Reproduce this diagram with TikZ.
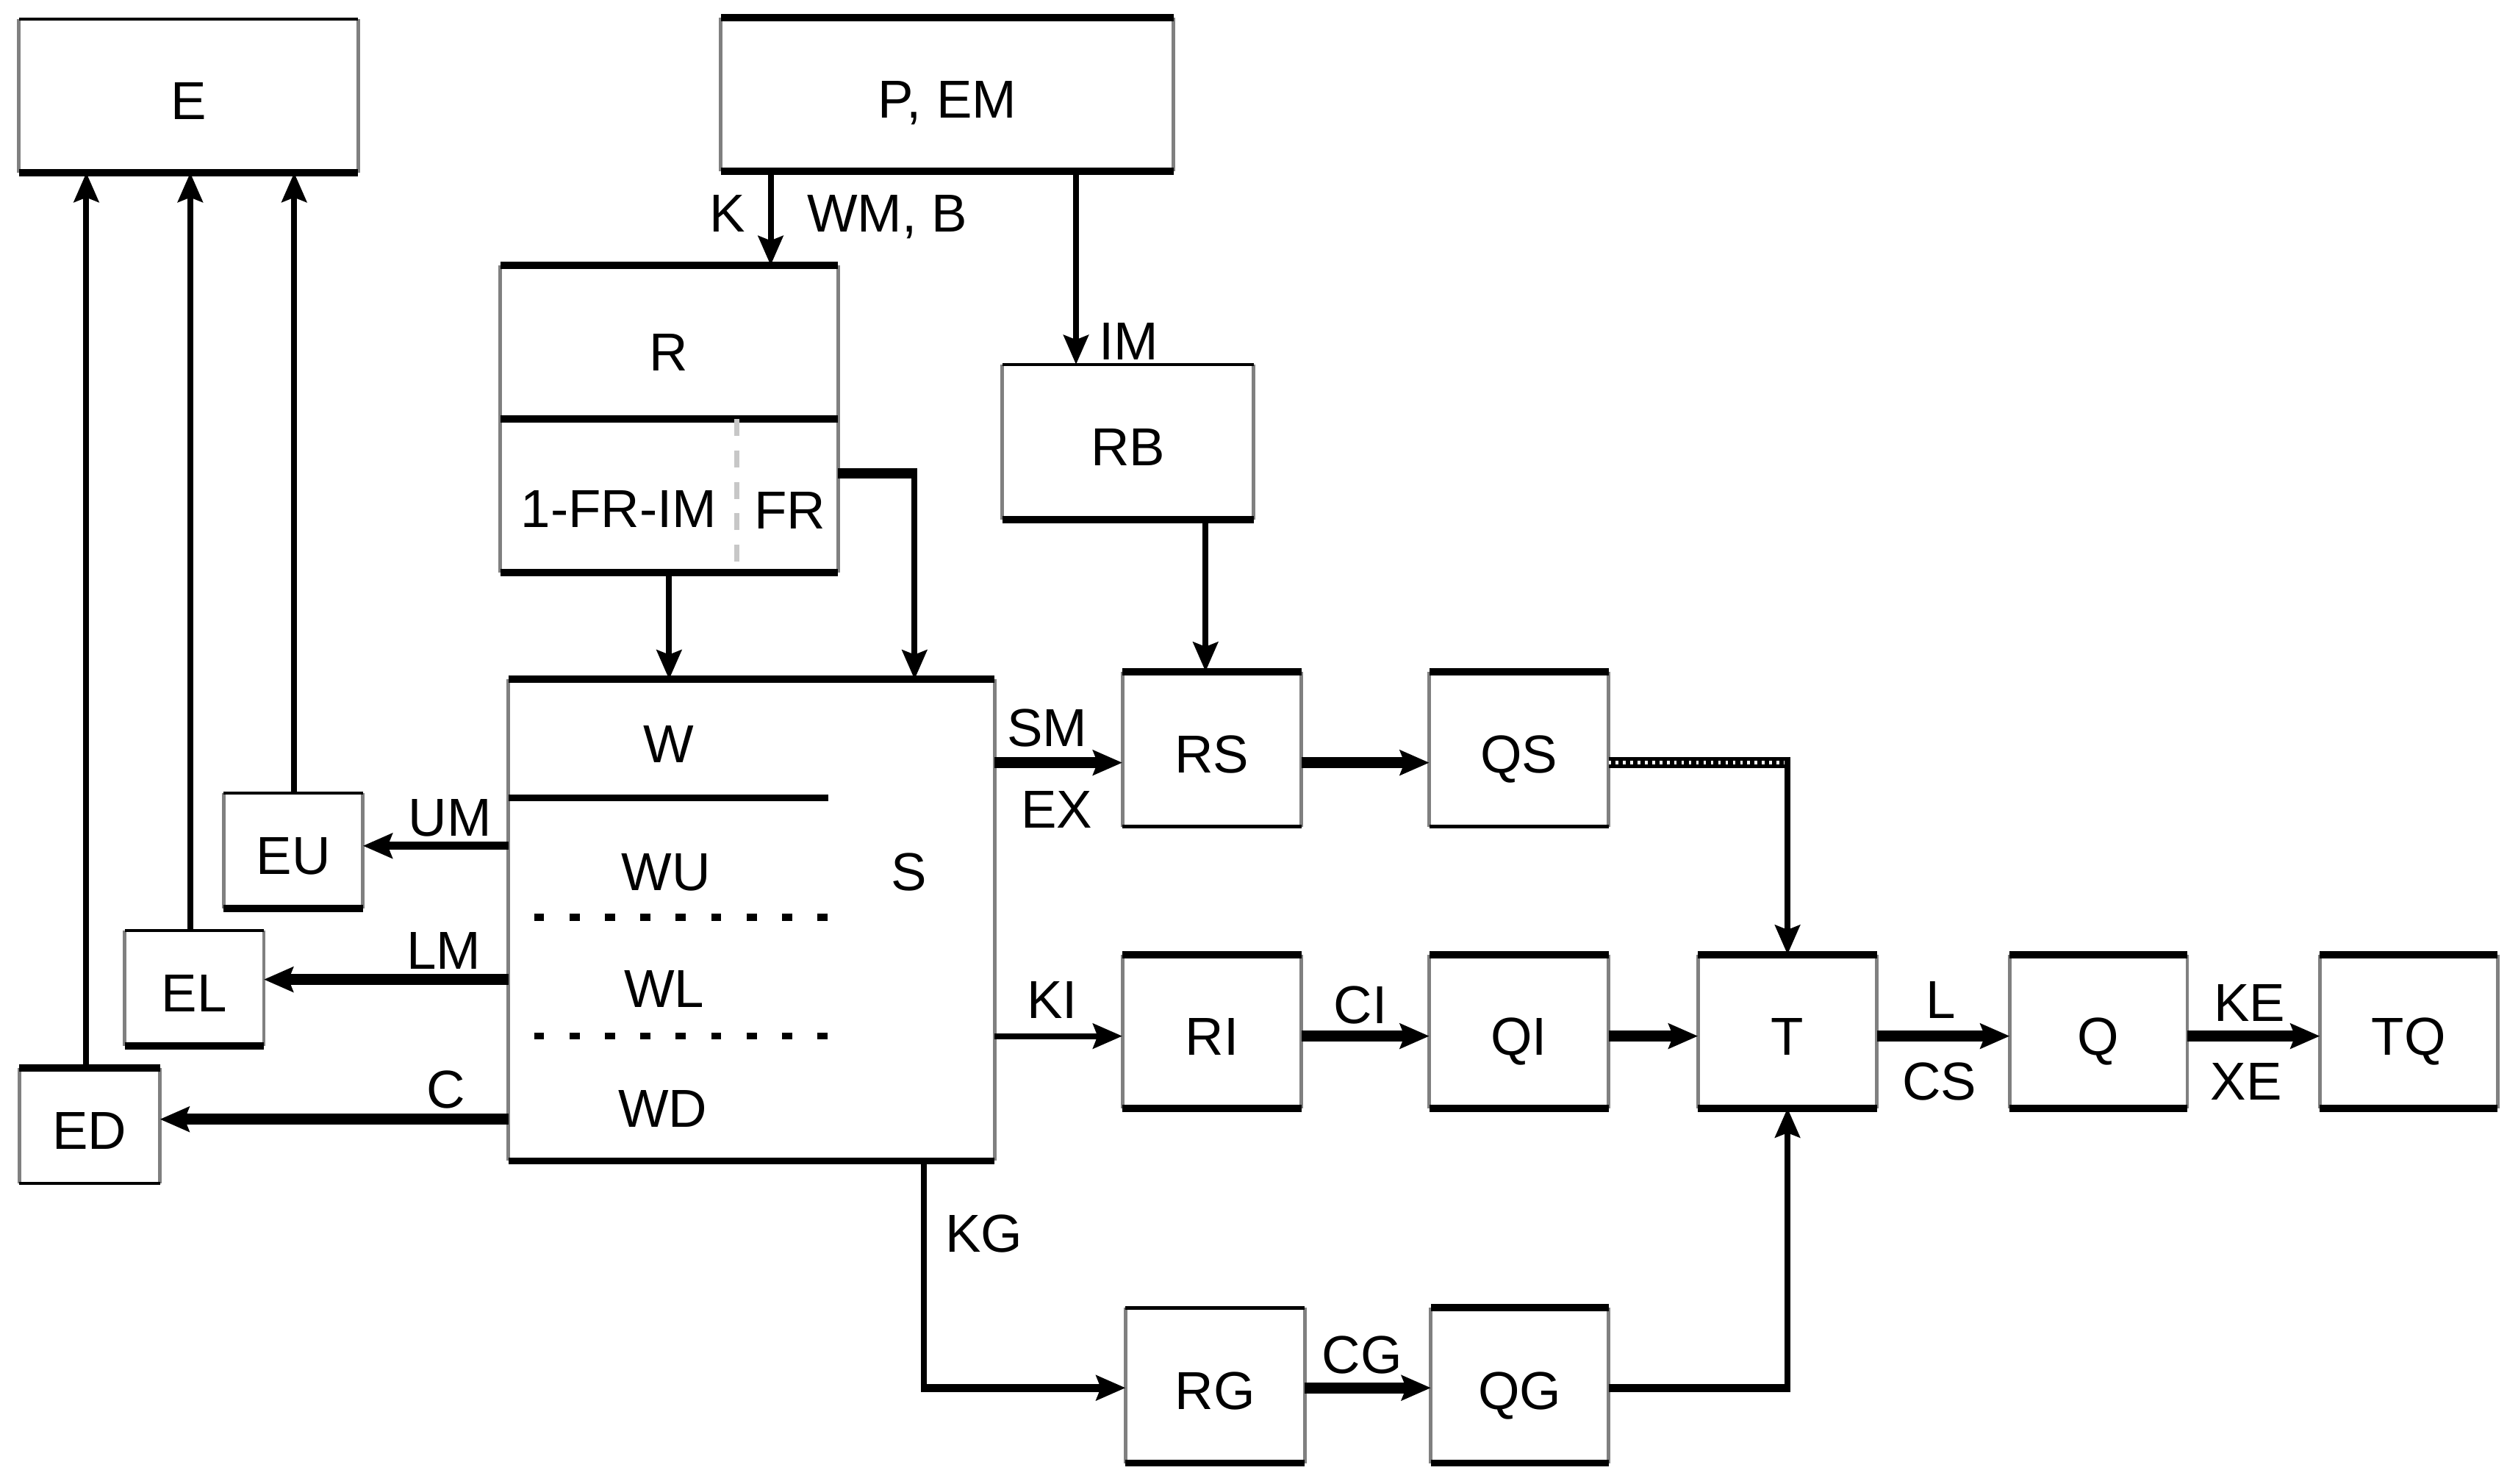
\documentclass[tikz,border=0pt]{standalone}
\usepackage{fontspec}
\setmainfont{Liberation Sans}
\usetikzlibrary{arrows.meta,calc}
\begin{document}
\begin{tikzpicture}[x=0.01cm,y=-0.01cm,
  font=\fontsize{9.5}{11}\selectfont,
  blk/.style={inner sep=0pt, outer sep=0pt, text height=8.4pt, text depth=0pt},
  lbl/.style={inner sep=0pt, outer sep=0pt, text height=6.8pt, text depth=0pt},
  side/.style={line width=0.65pt, black!50},
  edgethick/.style={line width=1.3pt},
  edgethin/.style={line width=0.6pt},
  tip/.style={-{Stealth[length=5.2pt,width=4.4pt,inset=0.8pt]}},
  wthin/.style={line width=1.05pt},
  wmid/.style={line width=1.4pt},
  wthick/.style={line width=2pt},
  divline/.style={line width=1.2pt},
  dotline/.style={line width=1.2pt, dash pattern=on 1.8pt off 4.5pt},
  grayDash/.style={line width=0.9pt, black!22, dash pattern=on 3pt off 2.6pt}
]
\useasboundingbox (0,0) rectangle (1568,928);

% ---------- boxes ----------
\node[blk, minimum width=2.12cm, minimum height=0.96cm] (E) at (118,60) {E};
\node[blk, minimum width=2.83cm, minimum height=0.96cm] (PEM) at (592.5,59) {P, EM};
\node[blk, minimum width=2.11cm, minimum height=1.92cm] (Rbox) at (418.5,262) {};
\node[blk, minimum width=1.57cm, minimum height=0.97cm] (RB) at (705.5,276.5) {RB};
\node[blk, minimum width=3.04cm, minimum height=3.01cm] (S) at (470,575.5) {};
\node[blk, minimum width=0.87cm, minimum height=0.72cm] (EU) at (183.5,532) {EU};
\node[blk, minimum width=0.87cm, minimum height=0.72cm] (EL) at (121.5,618) {EL};
\node[blk, minimum width=0.88cm, minimum height=0.72cm] (ED) at (56,704) {ED};
\node[blk, minimum width=1.12cm, minimum height=0.97cm] (RS) at (758,468.5) {RS};
\node[blk, minimum width=1.12cm, minimum height=0.97cm] (QS) at (950,468.5) {QS};
\node[blk, minimum width=1.12cm, minimum height=0.96cm] (RI) at (758,645) {RI};
\node[blk, minimum width=1.12cm, minimum height=0.96cm] (QI) at (950,645) {QI};
\node[blk, minimum width=1.12cm, minimum height=0.96cm] (T) at (1118,645) {T};
\node[blk, minimum width=1.11cm, minimum height=0.96cm] (Q) at (1312.5,645) {Q};
\node[blk, minimum width=1.11cm, minimum height=0.96cm] (TQ) at (1506.5,645) {TQ};
\node[blk, minimum width=1.12cm, minimum height=0.97cm] (RG) at (760,866.5) {RG};
\node[blk, minimum width=1.11cm, minimum height=0.97cm] (QG) at (950.5,866.5) {QG};

% box sides (thin gray)
\foreach \n in {E,PEM,Rbox,RB,S,EU,EL,ED,RS,QS,RI,QI,T,Q,TQ,RG,QG}{
  \draw[side] (\n.north west) -- (\n.south west) (\n.north east) -- (\n.south east);
}
% thick top edges
\foreach \n in {PEM,Rbox,S,RS,QS,RI,QI,T,Q,TQ,ED,QG}{
  \draw[edgethick] (\n.north west) -- (\n.north east);
}
% thin top edges
\foreach \n in {E,EU,EL,RB,RG}{
  \draw[edgethin] (\n.north west) -- (\n.north east);
}
% thick bottom edges
\foreach \n in {E,PEM,Rbox,RB,S,EU,EL,RI,QI,T,Q,TQ,RG,QG}{
  \draw[edgethick] (\n.south west) -- (\n.south east);
}
% thin bottom edges
\foreach \n in {ED,RS,QS}{
  \draw[edgethin] (\n.south west) -- (\n.south east);
}

% ---------- R box interior ----------
\draw[edgethick] (Rbox.west) -- (Rbox.east);
\coordinate (rdiv) at (461,0);
\draw[grayDash] (Rbox.center -| rdiv) -- (Rbox.south -| rdiv);
\node[lbl] (Rt) at (418,220) {R};
\node[lbl] (FRIM) at (387,318) {1-FR-IM};
\node[lbl] (FRt) at (494,319) {FR};

% ---------- S box interior ----------
\coordinate (wend) at (518,0);
\coordinate (dstart) at (334,0);
\coordinate (wy) at (0,499);
\coordinate (d1y) at (0,573.7);
\coordinate (d2y) at (0,648);
\draw[divline] (S.west |- wy) -- (wend |- wy);
\draw[dotline] (dstart |- d1y) -- (wend |- d1y);
\draw[dotline] (dstart |- d2y) -- (wend |- d2y);
\node[lbl] (Wt) at (418,465) {W};
\node[lbl] (WUt) at (416.5,545) {WU};
\node[lbl] (WLt) at (415.5,618) {WL};
\node[lbl] (WDt) at (414.5,693) {WD};
\node[lbl] (St) at (568.5,545) {S};

% ---------- connectors ----------
% P,EM -> R
\coordinate (kx) at (482,0);
\draw[wthin,tip] (PEM.south -| kx) -- (Rbox.north -| kx);
\node[lbl] (Kl) at (455,133) {K};
\node[lbl] (WMl) at (555,133) {WM, B};
% P,EM -> RB
\coordinate (imx) at (673,0);
\draw[wthin,tip] (PEM.south -| imx) -- (RB.north -| imx);
\node[lbl] (IMl) at (706,213) {IM};
% R -> S
\draw[wthin,tip] (Rbox.south) -- (Rbox.south |- S.north);
% FR -> S
\coordinate (fr) at (572,296);
\draw[line width=1.8pt] (Rbox.east |- fr) -- (fr);
\draw[wthin,tip] ([yshift=0.9pt]fr) -- (fr |- S.north);
% RB -> RS
\coordinate (rbx) at (754,0);
\draw[wthin,tip] (RB.south -| rbx) -- (RS.north -| rbx);
% S -> RS
\coordinate (sy) at (0,477);
\draw[wthick,tip] (S.east |- sy) -- (RS.west |- sy);
\node[lbl] (SMl) at (655,455) {SM};
\node[lbl] (EXl) at (661,506) {EX};
% RS -> QS
\draw[wthick,tip] (RS.east |- sy) -- (QS.west |- sy);
% QS -> T
\coordinate (qst) at (1118,477);
\draw[wthick] (QS.east |- sy) -- (qst);
\draw[white,line width=0.6pt,dash pattern=on 0.45pt off 0.85pt] (QS.east |- sy) -- (qst);
\draw[wthin,tip] ([yshift=1pt]qst) -- (T.north);
% S -> RI
\coordinate (iy) at (0,648);
\draw[wthin,tip] (S.east |- iy) -- (RI.west |- iy);
\node[lbl] (KIl) at (658,625) {KI};
% RI -> QI
\draw[wthick,tip] (RI.east |- iy) -- (QI.west |- iy);
\node[lbl] (CIl) at (851,628) {CI};
% QI -> T
\draw[wthick,tip] (QI.east |- iy) -- (T.west |- iy);
% T -> Q
\draw[wthick,tip] (T.east |- iy) -- (Q.west |- iy);
\node[lbl] (Ll) at (1214,625) {L};
\node[lbl] (CSl) at (1213,676) {CS};
% Q -> TQ
\draw[wthick,tip] (Q.east |- iy) -- (TQ.west |- iy);
\node[lbl] (KEl) at (1407,627) {KE};
\node[lbl] (XEl) at (1405,676) {XE};
% S -> EU, EL, ED
\coordinate (umy) at (0,529);
\coordinate (lmy) at (0,612.6);
\coordinate (cy) at (0,700);
\draw[wmid,tip] (S.west |- umy) -- (EU.east |- umy);
\node[lbl] (UMl) at (281.5,511) {UM};
\draw[wthick,tip] (S.west |- lmy) -- (EL.east |- lmy);
\node[lbl] (LMl) at (277.5,594) {LM};
\draw[wthick,tip] (S.west |- cy) -- (ED.east |- cy);
\node[lbl] (Cl) at (279,681) {C};
% EU, EL, ED -> E
\coordinate (e1) at (54,0);
\coordinate (e2) at (119,0);
\coordinate (e3) at (184,0);
\draw[wthin,tip] (ED.north -| e1) -- (E.south -| e1);
\draw[wthin,tip] (EL.north -| e2) -- (E.south -| e2);
\draw[wthin,tip] (EU.north -| e3) -- (E.south -| e3);
% S -> RG
\coordinate (kg) at (578,868);
\draw[wthin] (S.south -| kg) -- ([yshift=-0.7pt]kg);
\draw[wmid,tip] ([xshift=-0.5pt]kg) -- (RG.west |- kg);
\node[lbl] (KGl) at (615.5,771) {KG};
% RG -> QG
\draw[wthick,tip] (RG.east |- kg) -- (QG.west |- kg);
\node[lbl] (CGl) at (852,847) {CG};
% QG -> T
\coordinate (qgt) at (1118,868);
\draw[wmid] (QG.east |- kg) -- ([xshift=0.5pt]qgt);
\draw[wthin,tip] ([yshift=0.7pt]qgt) -- (T.south);
\end{tikzpicture}
\end{document}
